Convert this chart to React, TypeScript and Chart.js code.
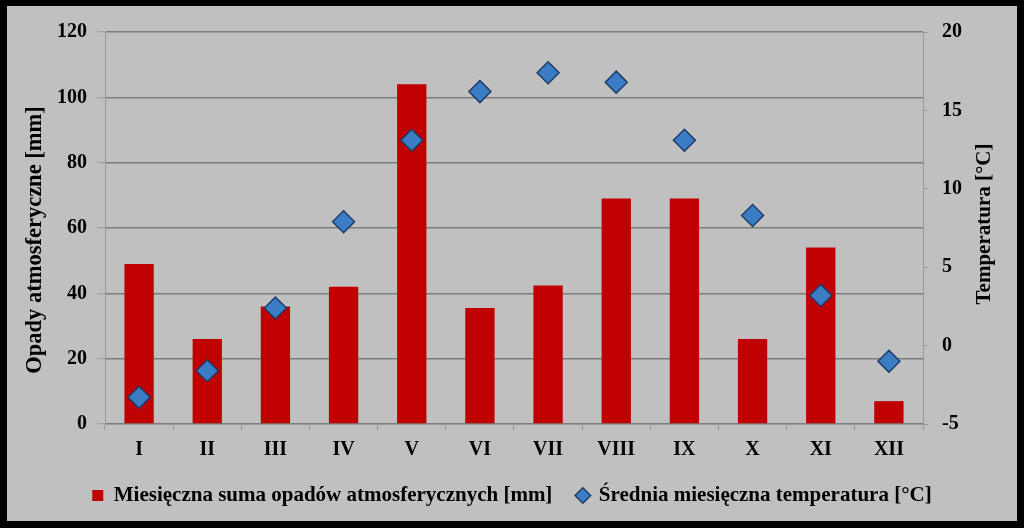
import React, { useEffect, useRef } from "react";
import { Chart, registerables } from "chart.js";

Chart.register(...registerables);

const months = ["I", "II", "III", "IV", "V", "VI", "VII", "VIII", "IX", "X", "XI", "XII"];
const precipitation = [49, 26, 36, 42, 104, 35.5, 42.4, 69, 69, 26, 54, 7];
const temperature = [-3.3, -1.6, 2.4, 7.9, 13.1, 16.2, 17.4, 16.8, 13.1, 8.3, 3.2, -1.0];
const precipLabel = "Miesięczna suma opadów atmosferycznych [mm]";
const tempLabel = "Średnia miesięczna temperatura [°C]";
const leftTitle = "Opady atmosferyczne [mm]";
const rightTitle = "Temperatura [°C]";
const legendStyles = ["rect", "rectRot"];

const FAMILY = "'Liberation Serif', 'Times New Roman', serif";
const font = (size: number) => ({ family: FAMILY, size, weight: "bold" as const, lineHeight: 1 });

// Axis titles drawn reading bottom-to-top, like the original
const axisTitlesPlugin = {
  id: "axisTitles",
  afterDraw(chart: any) {
    const ctx = chart.ctx;
    const area = chart.chartArea;
    const mid = (area.top + area.bottom) / 2;
    const draw = (text: string, x: number, y: number, size: number) => {
      ctx.save();
      ctx.font = `bold ${size}px ${FAMILY}`;
      ctx.fillStyle = "#000";
      ctx.textAlign = "center";
      ctx.textBaseline = "middle";
      ctx.translate(x, y);
      ctx.rotate(-Math.PI / 2);
      ctx.fillText(text, 0, 0);
      ctx.restore();
    };
    draw(leftTitle, chart.scales.y.left + 28, mid + 12, 22.5);
    draw(rightTitle, chart.scales.y1.right - 32, mid - 4, 21);
  },
};

export default function App() {
  const ref = useRef<HTMLCanvasElement>(null);

  useEffect(() => {
    if (!ref.current) return;
    Chart.defaults.color = "#000";
    const chart = new Chart(ref.current, {
      type: "bar",
      data: {
        labels: months,
        datasets: [
          {
            type: "bar",
            label: precipLabel,
            data: precipitation,
            backgroundColor: "#c00000",
            borderWidth: 0,
            yAxisID: "y",
            order: 2,
            categoryPercentage: 1,
            barPercentage: 0.43,
          } as any,
          {
            type: "line",
            label: tempLabel,
            data: temperature,
            yAxisID: "y1",
            showLine: false,
            order: 1,
            pointStyle: "rectRot",
            pointRadius: 11,
            pointHoverRadius: 11,
            pointBackgroundColor: "#3a7dc5",
            pointBorderColor: "#1f3b66",
            pointBorderWidth: 1.5,
            backgroundColor: "#3a7dc5",
            borderColor: "#1f3b66",
            borderWidth: 1.5,
          } as any,
        ],
      },
      plugins: [axisTitlesPlugin],
      options: {
        responsive: false,
        animation: false,
        devicePixelRatio: 1,
        layout: { padding: { top: 26, bottom: 5, left: 0, right: 0 } },
        plugins: {
          tooltip: { enabled: false },
          legend: {
            position: "bottom",
            labels: {
              usePointStyle: true,
              boxWidth: 11,
              boxHeight: 11,
              padding: 25,
              color: "#000",
              font: font(21),
              sort: (a: any, b: any) => a.datasetIndex - b.datasetIndex,
              generateLabels: (c: any) =>
                Chart.defaults.plugins.legend.labels
                  .generateLabels(c)
                  .map((item: any) => ({ ...item, pointStyle: legendStyles[item.datasetIndex] })),
            },
          },
        },
        scales: {
          x: {
            offset: true,
            afterFit: (s: any) => {
              s.height = 36;
            },
            grid: {
              offset: true,
              drawOnChartArea: false,
              drawTicks: true,
              tickLength: 6,
              color: "#9a9a9a",
            },
            border: { display: true, color: "#9a9a9a", width: 1 },
            ticks: { font: font(20), color: "#000", padding: 10, maxRotation: 0 },
          },
          y: {
            position: "left",
            min: 0,
            max: 120,
            afterFit: (s: any) => {
              s.width = 98;
            },
            ticks: { stepSize: 20, font: font(20), color: "#000", padding: 10 },
            grid: {
              color: "#7d7d7d",
              lineWidth: 1.5,
              tickLength: 8,
              tickColor: "#9a9a9a",
              tickWidth: 1,
            },
            border: { display: true, color: "#9a9a9a", width: 1 },
          },
          y1: {
            position: "right",
            min: -5,
            max: 20,
            afterFit: (s: any) => {
              s.width = 94;
            },
            ticks: { stepSize: 5, font: font(20), color: "#000", padding: 14 },
            grid: {
              drawOnChartArea: false,
              drawTicks: true,
              tickLength: 5,
              color: "#9a9a9a",
            },
            border: { display: true, color: "#9a9a9a", width: 1 },
          },
        },
      } as any,
    });
    return () => chart.destroy();
  }, []);

  return (
    <div style={{ position: "fixed", left: 0, top: 0, width: 1024, height: 528, background: "#000", overflow: "hidden" }}>
      <div style={{ position: "absolute", left: 7, top: 6, width: 1010, height: 515, background: "#c0c0c0" }}>
        <canvas ref={ref} width={1010} height={515} style={{ display: "block", width: 1010, height: 515 }} />
      </div>
    </div>
  );
}
